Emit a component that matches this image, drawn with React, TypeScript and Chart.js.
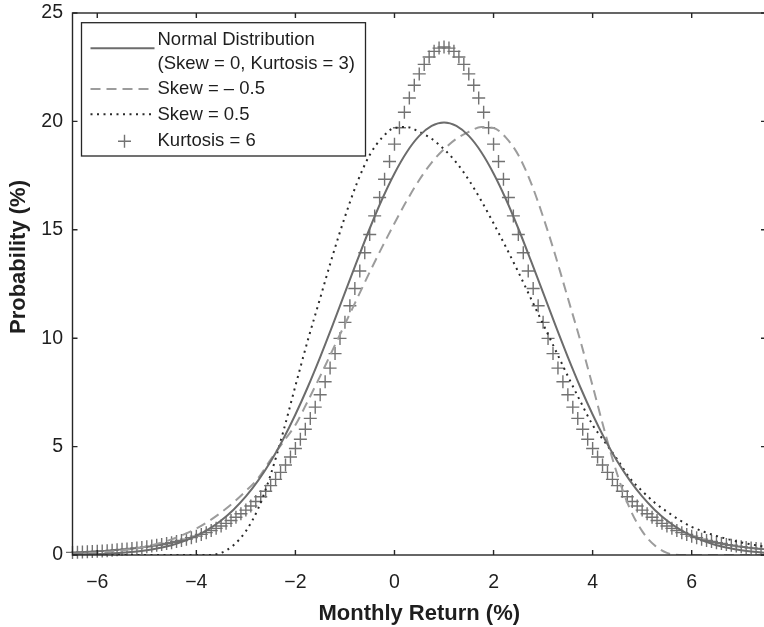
import React, { useEffect, useRef } from "react";
import { Chart, registerables } from "chart.js";

Chart.register(...registerables);

// ---- Data ----
const xTicks = [-6, -4, -2, 0, 2, 4, 6];
const xTickLabels = ["\u22126", "\u22124", "\u22122", "0", "2", "4", "6"];
const yTicks = [0, 5, 10, 15, 20, 25];
const yTickLabels = ["0", "5", "10", "15", "20", "25"];

const xTitle = "Monthly Return (%)";
const yTitle = "Probability (%)";

const legendNormal = ["Normal Distribution", "(Skew = 0, Kurtosis = 3)"];
const legendSkewNeg = ["Skew = \u2013 0.5"];
const legendSkewPos = ["Skew = 0.5"];
const legendKurt = ["Kurtosis = 6"];

// x grid of the curves (Monthly Return, %)
const lineX = [
  -6.5, -6.25, -6, -5.75, -5.5, -5.25, -5, -4.75, -4.5, -4.25, -4, -3.75, -3.5, -3.25, -3, -2.75,
  -2.5, -2.25, -2, -1.75, -1.5, -1.25, -1, -0.75, -0.5, -0.25, 0, 0.25, 0.5, 0.75, 1,
  1.25, 1.5, 1.75, 2, 2.25, 2.5, 2.75, 3, 3.25, 3.5, 3.75, 4, 4.25, 4.5, 4.75, 5, 5.25, 5.5,
  5.75, 6, 6.25, 6.5, 6.75, 7, 7.25, 7.5,
];

const normalY = [
  0.02, 0.03, 0.04, 0.07, 0.1, 0.15, 0.22, 0.32, 0.45, 0.64, 0.88, 1.19, 1.59, 2.09, 2.7, 3.44,
  4.31, 5.33, 6.48, 7.75, 9.13, 10.59, 12.1, 13.6, 15.06, 16.41, 17.6, 18.59, 19.33, 19.79, 19.95,
  19.79, 19.33, 18.59, 17.6, 16.41, 15.06, 13.6, 12.1, 10.59, 9.13, 7.75, 6.48, 5.33, 4.31, 3.44,
  2.7, 2.09, 1.59, 1.19, 0.88, 0.64, 0.45, 0.32, 0.22, 0.15, 0.1,
];

const skewNegY = [
  0.05, 0.07, 0.1, 0.15, 0.21, 0.29, 0.4, 0.54, 0.72, 0.95, 1.22, 1.56, 1.96, 2.42, 2.95, 3.55,
  4.4, 5.2, 6.0, 7.1, 8.25, 9.45, 10.65, 11.85, 13.05, 14.2, 15.3, 16.35, 17.3, 18.1, 18.72,
  19.2, 19.52, 19.74, 19.7, 19.25, 18.45, 17.2, 15.6, 13.8, 11.85, 9.9, 7.8, 5.65, 3.7, 2.15, 1.1,
  0.45, 0.1, 0, 0, 0, 0, 0, 0, 0, 0,
];

const skewPosY = [
  0, 0, 0, 0, 0, 0, 0, 0, 0, 0, 0, 0,
  0.1, 0.45, 1.1, 2.15, 3.7, 5.65, 7.8, 9.9, 11.85, 13.8, 15.6, 17.2, 18.45, 19.25, 19.7,
  19.74, 19.52, 19.2, 18.72, 18.1, 17.3, 16.35, 15.3, 14.2, 13.05, 11.85, 10.65, 9.45, 8.25,
  7.1, 6.0, 5.2, 4.4, 3.55, 2.95, 2.42, 2.0, 1.62, 1.3, 1.07, 0.88, 0.72, 0.58, 0.47, 0.38,
];

// Kurtosis = 6 markers, sampled every 0.1 from -6.5 to 7.5
const kurtStart = -6.5;
const kurtStep = 0.1;
const kurtY = [
  0.12, 0.13, 0.14, 0.15, 0.16, 0.17, 0.19, 0.2, 0.22, 0.24,
  0.26, 0.28, 0.3, 0.32, 0.35, 0.38, 0.41, 0.45, 0.48, 0.53,
  0.57, 0.62, 0.67, 0.73, 0.8, 0.87, 0.95, 1.03, 1.13, 1.23,
  1.34, 1.46, 1.59, 1.74, 1.9, 2.07, 2.26, 2.47, 2.69, 2.94,
  3.2, 3.49, 3.81, 4.15, 4.52, 4.91, 5.34, 5.8, 6.3, 6.82,
  7.39, 7.99, 8.62, 9.29, 9.99, 10.73, 11.5, 12.29, 13.1, 13.94,
  14.78, 15.64, 16.49, 17.33, 18.15, 18.95, 19.71, 20.42, 21.08, 21.67,
  22.19, 22.63, 22.97, 23.23, 23.38,
  23.43,
  23.38, 23.23, 22.97, 22.63, 22.19,
  21.67, 21.08, 20.42, 19.71, 18.95, 18.15, 17.33, 16.49, 15.64, 14.78,
  13.94, 13.1, 12.29, 11.5, 10.73, 9.99, 9.29, 8.62, 7.99, 7.39,
  6.82, 6.3, 5.8, 5.34, 4.91, 4.52, 4.15, 3.81, 3.49, 3.2,
  2.94, 2.69, 2.47, 2.26, 2.07, 1.9, 1.74, 1.59, 1.46, 1.34,
  1.23, 1.13, 1.03, 0.95, 0.87, 0.8, 0.73, 0.67, 0.62, 0.57,
  0.53, 0.48, 0.45, 0.41, 0.38, 0.35, 0.32, 0.3, 0.28, 0.26,
];

const X_MIN = -6.5;
const X_MAX = 7.5;
const Y_MIN = 0;
const Y_MAX = 25;

const FONT = '"Liberation Sans", Arial, Helvetica, sans-serif';
const AXIS_COLOR = "#262626";
const TEXT_COLOR = "#1e1e1e";

const toPoints = (xs: number[], ys: number[]) => ys.map((y, i) => ({ x: xs[i], y }));

const framePlugin = {
  id: "frameAndLegend",
  afterDraw(chart: any) {
    const { ctx, chartArea: a, scales } = chart;
    ctx.save();
    // axes box
    ctx.strokeStyle = AXIS_COLOR;
    ctx.lineWidth = 1.4;
    ctx.strokeRect(a.left, a.top, a.right - a.left, a.bottom - a.top);
    // inward tick marks on all sides
    const tl = 5;
    ctx.beginPath();
    for (const v of xTicks) {
      const px = scales.x.getPixelForValue(v);
      ctx.moveTo(px, a.bottom);
      ctx.lineTo(px, a.bottom - tl);
      ctx.moveTo(px, a.top);
      ctx.lineTo(px, a.top + tl);
    }
    for (const v of yTicks) {
      const py = scales.y.getPixelForValue(v);
      ctx.moveTo(a.left, py);
      ctx.lineTo(a.left + tl, py);
      ctx.moveTo(a.right, py);
      ctx.lineTo(a.right - tl, py);
    }
    ctx.stroke();

    // y-axis title
    ctx.save();
    ctx.translate(18.5, 257);
    ctx.rotate(-Math.PI / 2);
    ctx.font = `bold 22px ${FONT}`;
    ctx.fillStyle = TEXT_COLOR;
    ctx.textAlign = "center";
    ctx.textBaseline = "middle";
    ctx.fillText(yTitle, 0, 0);
    ctx.restore();

    // legend box
    const bx = a.left + 9;
    const by = a.top + 9.7;
    const bw = 284;
    const bh = 133.3;
    ctx.fillStyle = "#ffffff";
    ctx.fillRect(bx, by, bw, bh);
    ctx.strokeStyle = AXIS_COLOR;
    ctx.lineWidth = 1.3;
    ctx.strokeRect(bx, by, bw, bh);

    const ds = chart.data.datasets;
    const textX = bx + 76;
    const textRows = [17.5, 40.8, 66.5, 92.3, 117.8];
    ctx.font = `18.5px ${FONT}`;
    ctx.fillStyle = TEXT_COLOR;
    ctx.textAlign = "left";
    ctx.textBaseline = "middle";
    const lines: string[] = [];
    for (const d of ds) for (const l of d.legendLines) lines.push(l);
    lines.forEach((t, i) => ctx.fillText(t, textX, by + textRows[i]));

    const sx0 = bx + 9;
    const sx1 = bx + 73;
    const sampleY = [25.6, 66.3, 91.5, 118.5];
    ds.forEach((d: any, i: number) => {
      const y = by + sampleY[i];
      if (d.showLine === false) {
        const cx = bx + 43;
        const r = d.pointRadius;
        ctx.strokeStyle = d.pointBorderColor;
        ctx.lineWidth = d.pointBorderWidth;
        ctx.setLineDash([]);
        ctx.beginPath();
        ctx.moveTo(cx - r, y);
        ctx.lineTo(cx + r, y);
        ctx.moveTo(cx, y - r);
        ctx.lineTo(cx, y + r);
        ctx.stroke();
      } else {
        ctx.strokeStyle = d.borderColor;
        ctx.lineWidth = d.borderWidth;
        ctx.setLineDash(d.borderDash || []);
        ctx.beginPath();
        ctx.moveTo(sx0, y);
        ctx.lineTo(sx1, y);
        ctx.stroke();
      }
    });
    ctx.restore();
  },
};

export default function App() {
  const ref = useRef<HTMLCanvasElement | null>(null);

  useEffect(() => {
    if (!ref.current) return;
    Chart.defaults.font.family = FONT;
    const kurtPoints = kurtY.map((y, i) => ({
      x: Math.round((kurtStart + i * kurtStep) * 10) / 10,
      y,
    }));
    const chart = new Chart(ref.current, {
      type: "line",
      data: {
        datasets: [
          {
            label: legendNormal.join(" "),
            legendLines: legendNormal,
            data: toPoints(lineX, normalY),
            borderColor: "#6c6c6c",
            borderWidth: 2,
            pointRadius: 0,
            cubicInterpolationMode: "monotone",
            fill: false,
          } as any,
          {
            label: legendSkewNeg.join(" "),
            legendLines: legendSkewNeg,
            data: toPoints(lineX, skewNegY),
            borderColor: "#9c9c9c",
            borderWidth: 2,
            borderDash: [10, 6],
            pointRadius: 0,
            cubicInterpolationMode: "monotone",
            fill: false,
          } as any,
          {
            label: legendSkewPos.join(" "),
            legendLines: legendSkewPos,
            data: toPoints(lineX, skewPosY),
            borderColor: "#2a2a2a",
            borderWidth: 2,
            borderDash: [2, 4.5],
            pointRadius: 0,
            cubicInterpolationMode: "monotone",
            fill: false,
          } as any,
          {
            label: legendKurt.join(" "),
            legendLines: legendKurt,
            data: kurtPoints,
            showLine: false,
            pointStyle: "cross",
            pointRadius: 6.5,
            pointBorderWidth: 1.4,
            pointBorderColor: "#727272",
            borderColor: "#727272",
            backgroundColor: "#727272",
            clip: false,
          } as any,
        ],
      },
      options: {
        animation: false,
        responsive: false,
        maintainAspectRatio: false,
        events: [],
        layout: { padding: { left: 0, right: 14, top: 13, bottom: 0 } },
        plugins: { legend: { display: false }, tooltip: { enabled: false } },
        scales: {
          x: {
            type: "linear",
            min: X_MIN,
            max: X_MAX,
            grid: { display: false, drawTicks: false },
            border: { display: false },
            afterBuildTicks: (s: any) => {
              s.ticks = xTicks.map((v) => ({ value: v }));
            },
            afterFit: (s: any) => {
              s.height = 72;
              s.paddingLeft = 0;
              s.paddingRight = 0;
            },
            ticks: {
              autoSkip: false,
              maxRotation: 0,
              padding: 16,
              color: TEXT_COLOR,
              font: { size: 19.5 },
              callback: (_v: any, i: number) => xTickLabels[i],
            },
            title: {
              display: true,
              text: xTitle,
              color: TEXT_COLOR,
              font: { size: 22, weight: "bold" },
              padding: { top: 0, bottom: 0 },
            },
          },
          y: {
            type: "linear",
            min: Y_MIN,
            max: Y_MAX,
            grid: { display: false, drawTicks: false },
            border: { display: false },
            afterBuildTicks: (s: any) => {
              s.ticks = yTicks.map((v) => ({ value: v }));
            },
            afterFit: (s: any) => {
              s.width = 72.5;
              s.paddingTop = 0;
              s.paddingBottom = 0;
            },
            ticks: {
              autoSkip: false,
              padding: 9.5,
              color: TEXT_COLOR,
              font: { size: 19.5 },
              callback: (_v: any, i: number) => yTickLabels[i],
            },
          },
        },
      } as any,
      plugins: [framePlugin],
    });
    return () => chart.destroy();
  }, []);

  return (
    <div
      style={{
        position: "fixed",
        left: 0,
        top: 0,
        width: 764,
        height: 627,
        overflow: "hidden",
        background: "#ffffff",
      }}
    >
      <canvas
        ref={ref}
        width={780}
        height={627}
        style={{ display: "block", width: 780, height: 627 }}
      />
    </div>
  );
}
